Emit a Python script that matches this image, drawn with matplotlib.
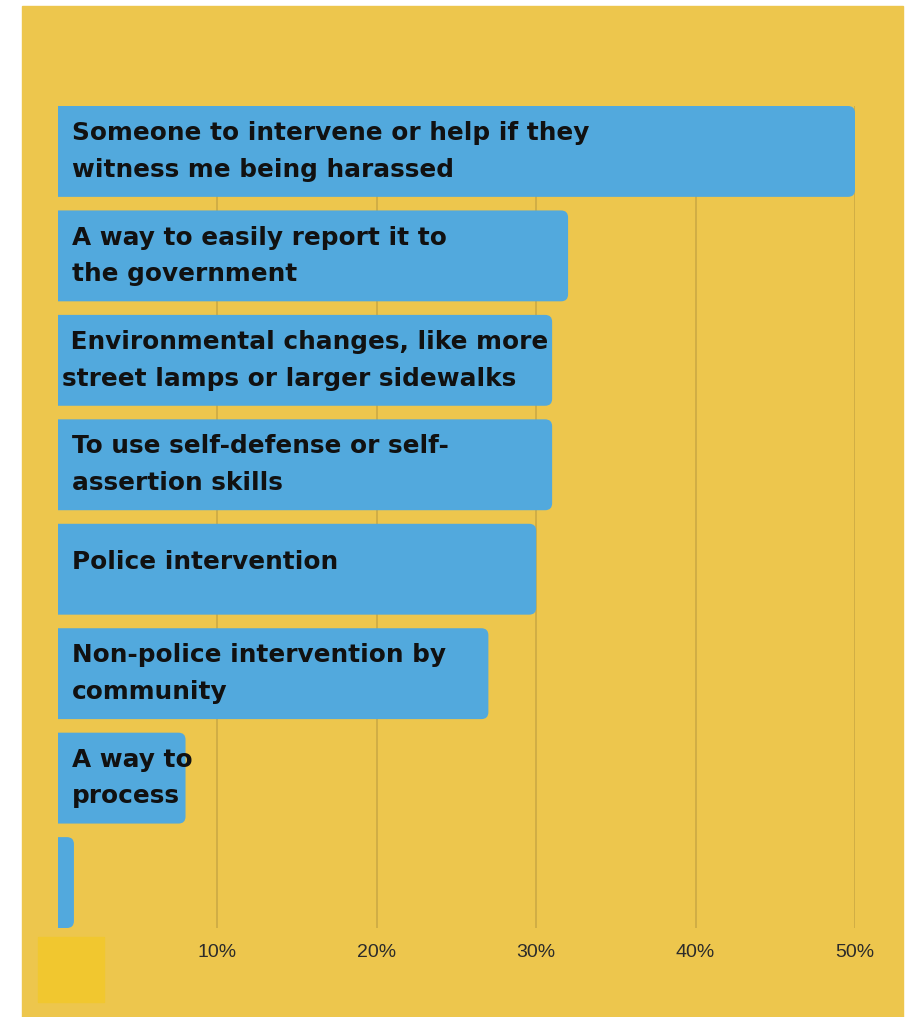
import matplotlib.pyplot as plt
from matplotlib.patches import PathPatch, Rectangle
from matplotlib.path import Path

# data
labels = [
    "Someone to intervene or help if they\nwitness me being harassed",
    "A way to easily report it to\nthe government",
    " Environmental changes, like more\nstreet lamps or larger sidewalks",
    "To use self-defense or self-\nassertion skills",
    "Police intervention",
    "Non-police intervention by\ncommunity",
    "A way to\nprocess",
    "",
]
values = [50, 32, 31, 31, 30, 27, 8, 1]
ticks = [10, 20, 30, 40, 50]
tick_labels = ["10%", "20%", "30%", "40%", "50%"]

bg = "#EDC64D"
blue = "#52A9DD"
grid = "#C9A743"

W, H = 910, 1017
fig = plt.figure(figsize=(W / 100, H / 100), dpi=100, facecolor="white")

# yellow panel with white border top/left/right
fig.patches.append(Rectangle((22 / W, 0), (903 - 22) / W, (1017 - 6) / H,
                             transform=fig.transFigure, color=bg, zorder=-2))
# small square bottom left
fig.patches.append(Rectangle((38 / W, (1017 - 1002) / H), 66 / W, 65 / H,
                             transform=fig.transFigure, color="#F1C72F", zorder=-1))

x0, x1 = 58, 855
ytop, ybot = 106, 928
ax = fig.add_axes([x0 / W, (H - ybot) / H, (x1 - x0) / W, (ybot - ytop) / H])
ax.set_zorder(5)
ax.set_facecolor("none")
for s in ax.spines.values():
    s.set_visible(False)

n = len(values)
ypos = list(range(n))
bh = 0.87
ax.set_xlim(0, 50)
ax.set_ylim(n - 1 + bh / 2, -bh / 2)

for t in ticks:
    ax.axvline(t, color=grid, lw=1.1, zorder=1)

ax.set_xticks(ticks)
ax.set_xticklabels(tick_labels, fontsize=14, family="Liberation Sans", color="#2b2b2b")
ax.tick_params(axis="x", length=0, pad=11.5)
ax.set_yticks([])

bars = ax.barh(ypos, values, height=bh, color=blue, zorder=2)

# rounded right corners: replace each bar by one path built from its geometry
px_x = (x1 - x0) / 50
px_y = (ybot - ytop) / (n - 1 + bh)
rx = 7 / px_x
ry = 7 / px_y
for b in bars:
    bx, by, bw, bhh = b.get_x(), b.get_y(), b.get_width(), b.get_height()
    b.set_visible(False)
    ex = bx + bw
    verts = [(bx, by), (ex - rx, by), (ex, by), (ex, by + ry),
             (ex, by + bhh - ry), (ex, by + bhh), (ex - rx, by + bhh),
             (bx, by + bhh), (bx, by)]
    codes = [Path.MOVETO, Path.LINETO, Path.CURVE3, Path.CURVE3,
             Path.LINETO, Path.CURVE3, Path.CURVE3, Path.LINETO, Path.CLOSEPOLY]
    ax.add_patch(PathPatch(Path(verts, codes), fc=blue, ec="none", zorder=2))

for i, lab in enumerate(labels):
    dx = 3 if lab.startswith(" ") else 10
    dy = 5 if "\n" not in lab else 0
    ax.annotate(lab, xy=(0, i), xytext=(dx, dy), textcoords="offset points",
                ha="left", va="center", fontsize=17.8, fontweight="bold",
                family="DejaVu Sans", color="#111111", linespacing=1.67,
                zorder=3)

fig.savefig("out.png", dpi=100, facecolor="white")
